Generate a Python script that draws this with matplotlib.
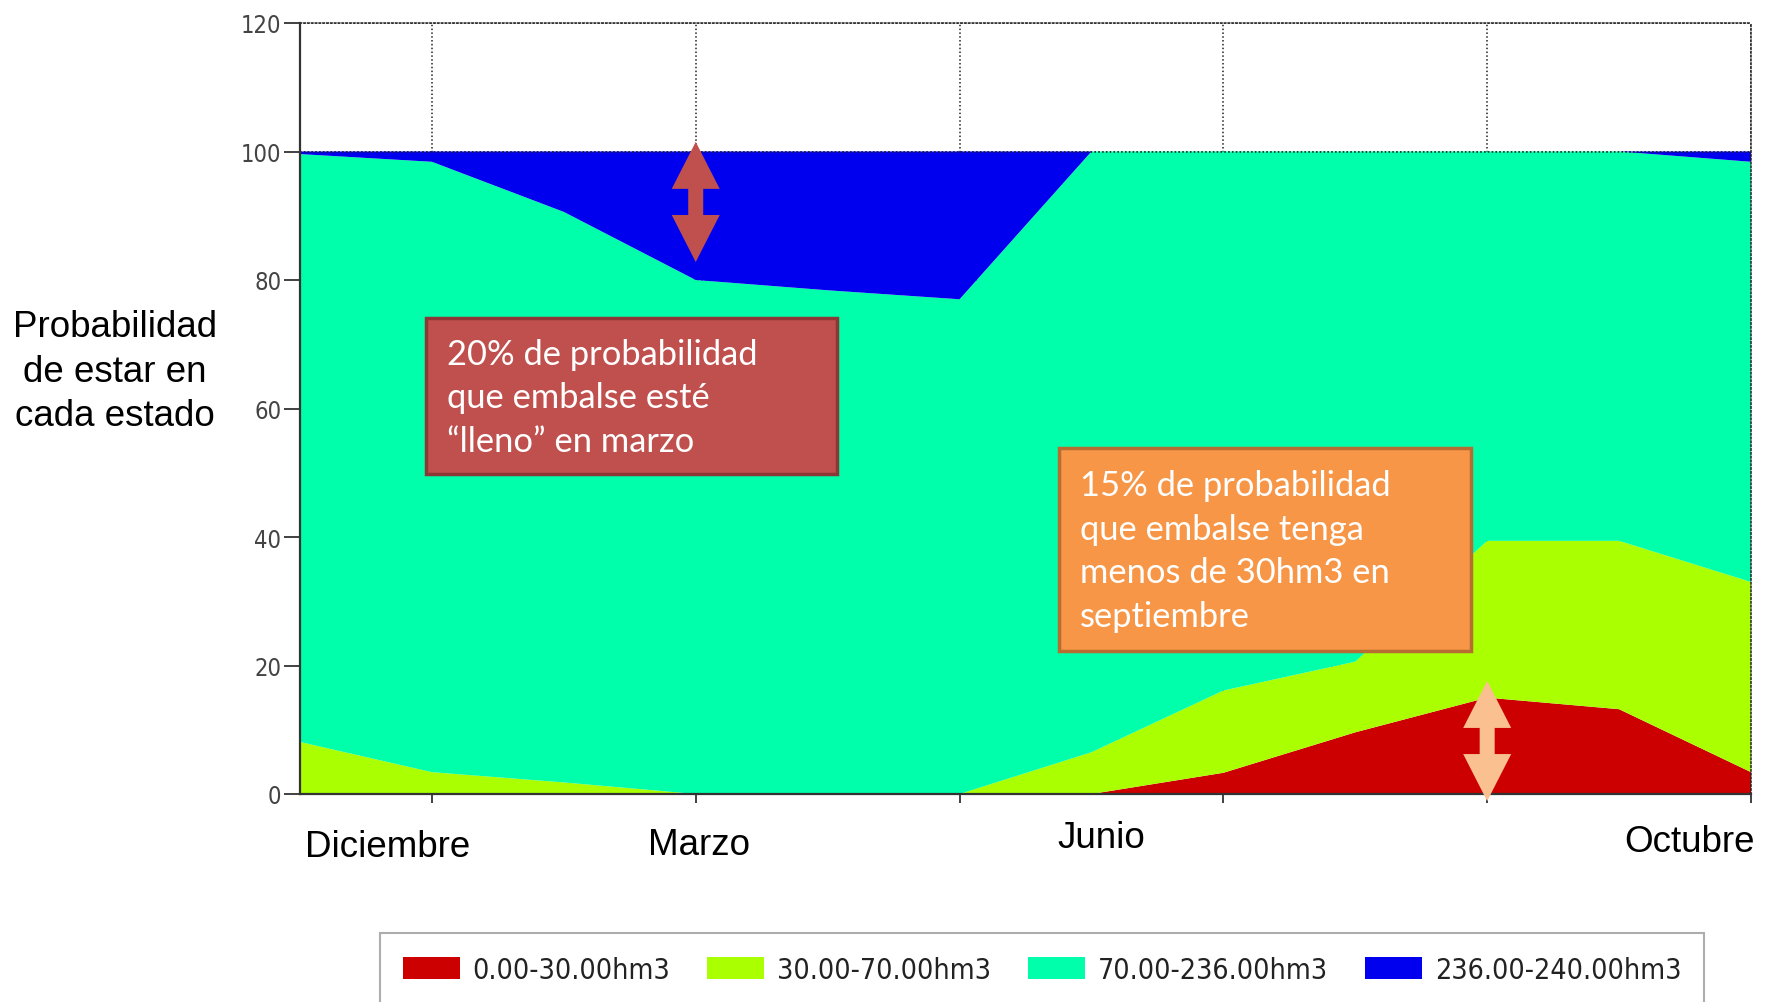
import matplotlib
matplotlib.use("Agg")
import matplotlib.pyplot as plt
from matplotlib import font_manager as fm
from matplotlib.patches import Rectangle, Polygon, Patch
import numpy as np

# Month index 0..11 (Dic .. Nov)
months = ["Dic", "Ene", "Feb", "Mar", "Abr", "May", "Jun", "Jul", "Ago", "Sep", "Oct", "Nov"]

# Probability (%) of the reservoir being in each volume band
p_0_30 = [0, 0, 0, 0, 0, 0, 0, 3.3, 9.6, 15.0, 13.2, 3.4]
p_30_70 = [8.1, 3.4, 1.8, 0, 0, 0, 6.5, 12.8, 11.0, 24.4, 26.2, 29.6]
p_236_240 = [0.4, 1.6, 9.4, 20.0, 21.6, 23.0, 0, 0, 0, 0, 0, 1.6]
p_70_236 = [100 - a - b - c for a, b, c in zip(p_0_30, p_30_70, p_236_240)]

band_labels = ["0.00-30.00hm3", "30.00-70.00hm3", "70.00-236.00hm3", "236.00-240.00hm3"]
band_colors = ["#CC0000", "#AAFF00", "#00FFAA", "#0000EE"]

month_labels = ["Diciembre", "Marzo", "Junio", "Octubre"]
month_label_pos = [(0.2193, 0.1555), (0.3951, 0.1575), (0.6224, 0.1645), (0.9548, 0.1605)]

# Pick a condensed sans for tick and legend text, falling back to Arial metrics
_fonts = fm.fontManager.ttflist
_names = {f.name for f in _fonts}
if "Liberation Sans Narrow" in _names:
    small_font = {"family": "Liberation Sans Narrow", "stretch": "normal"}
    tick_size, legend_size = 18.5, 22
elif any(f.name == "DejaVu Sans" and f.stretch == "condensed" for f in _fonts):
    small_font = {"family": "DejaVu Sans", "stretch": "condensed"}
    tick_size, legend_size = 17, 20.5
else:
    small_font = {"family": "Liberation Sans", "stretch": "normal"}
    tick_size, legend_size = 15.5, 19.5

arial = ["Liberation Sans", "DejaVu Sans"]
boxfont = ["Lato", "DejaVu Sans"]

W, H = 1769, 1003
fig = plt.figure(figsize=(W / 100, H / 100), dpi=100)
ax = fig.add_axes([300 / W, 1 - 795 / H, (1751 - 300) / W, (795 - 24) / H])

x = np.arange(len(months))
ax.stackplot(x, p_0_30, p_30_70, p_70_236, p_236_240,
             colors=band_colors, linewidth=0, zorder=2)

ax.set_xlim(0, 11)
ax.set_ylim(0, 120)
ax.set_xticks([1, 3, 5, 7, 9, 11])
ax.set_yticks(range(0, 121, 20))
ax.tick_params(axis="x", length=6.5, width=1.3, color="#333333", labelbottom=False)
ax.tick_params(axis="y", length=11.5, width=1.3, color="#333333", pad=2,
               labelsize=tick_size, labelcolor="#444444")
for lab in ax.get_yticklabels():
    lab.set_family(small_font["family"])
    lab.set_stretch(small_font["stretch"])

ax.grid(True, color="#222222", linestyle=(0, (1, 1.5)), linewidth=1.1, zorder=1)
ax.set_axisbelow(True)
ax.axhline(100, color="#222222", linestyle=(0, (1, 1.5)), linewidth=1.1, zorder=3)

for side in ("left", "bottom"):
    ax.spines[side].set_color("#333333")
    ax.spines[side].set_linewidth(1.6)
    ax.spines[side].set_zorder(4)
for side in ("top", "right"):
    ax.spines[side].set_color("#222222")
    ax.spines[side].set_linestyle((0, (1, 1.5)))
    ax.spines[side].set_linewidth(1.1)

# Axis texts
fig.text(115 / W, 1 - 372 / H, "Probabilidad\nde estar en\ncada estado",
         ha="center", va="center", fontsize=26.5, family=arial, linespacing=1.37)
for lab, (fx, fy) in zip(month_labels, month_label_pos):
    fig.text(fx, fy, lab, ha="center", va="center", fontsize=26.5, family=arial)


def double_arrow(xd, y_top, y_bot, color, head_w=48, shaft_w=15, head_len=47):
    """Up/down block arrow between two data heights at month xd."""
    (cx, ty), = ax.transData.transform([(xd, y_top)])
    (_, by), = ax.transData.transform([(xd, y_bot)])
    hw, sw = head_w / 2, shaft_w / 2
    pts = [
        (cx, ty), (cx + hw, ty - head_len), (cx + sw, ty - head_len),
        (cx + sw, by + head_len), (cx + hw, by + head_len), (cx, by),
        (cx - hw, by + head_len), (cx - sw, by + head_len),
        (cx - sw, ty - head_len), (cx - hw, ty - head_len),
    ]
    pts = fig.transFigure.inverted().transform(pts)
    fig.patches.append(Polygon(pts, closed=True, facecolor=color, edgecolor="none",
                               transform=fig.transFigure, zorder=6))


double_arrow(3, 101.5, 82.8, "#C0504D")
double_arrow(9, 17.6, -1.1, "#FAC090")


def note_box(x0, y0, x1, y1, face, edge, text, tx, ty):
    fig.patches.append(Rectangle((x0 / W, 1 - y1 / H), (x1 - x0) / W, (y1 - y0) / H,
                                 facecolor=face, edgecolor=edge, linewidth=2.5,
                                 transform=fig.transFigure, zorder=6))
    fig.text(tx / W, 1 - ty / H, text, ha="left", va="center", color="white",
             fontsize=24.8, family=boxfont, linespacing=1.45, zorder=7)


note_box(426, 319, 837, 475, "#C0504D", "#8C3836",
         "20% de probabilidad\nque embalse esté\n“lleno” en marzo", 447, 398.5)
note_box(1059, 449, 1471, 652, "#F79646", "#B66D31",
         "15% de probabilidad\nque embalse tenga\nmenos de 30hm3 en\nseptiembre", 1080, 551.5)

handles = [Patch(facecolor=c, edgecolor="none") for c in band_colors]
leg = fig.legend(handles, band_labels, loc="upper left",
                 bbox_to_anchor=(380 / W, 1 - 934 / H), ncol=4, frameon=True,
                 fancybox=False, edgecolor="#999999",
                 prop=fm.FontProperties(family=small_font["family"],
                                        stretch=small_font["stretch"], size=legend_size),
                 handlelength=2.0, handleheight=0.8, handletextpad=0.45,
                 columnspacing=1.3, borderpad=0.8, borderaxespad=0)
leg.get_frame().set_linewidth(1.5)
for t in leg.get_texts():
    t.set_color("#222222")

fig.savefig("out.png", dpi=100)
